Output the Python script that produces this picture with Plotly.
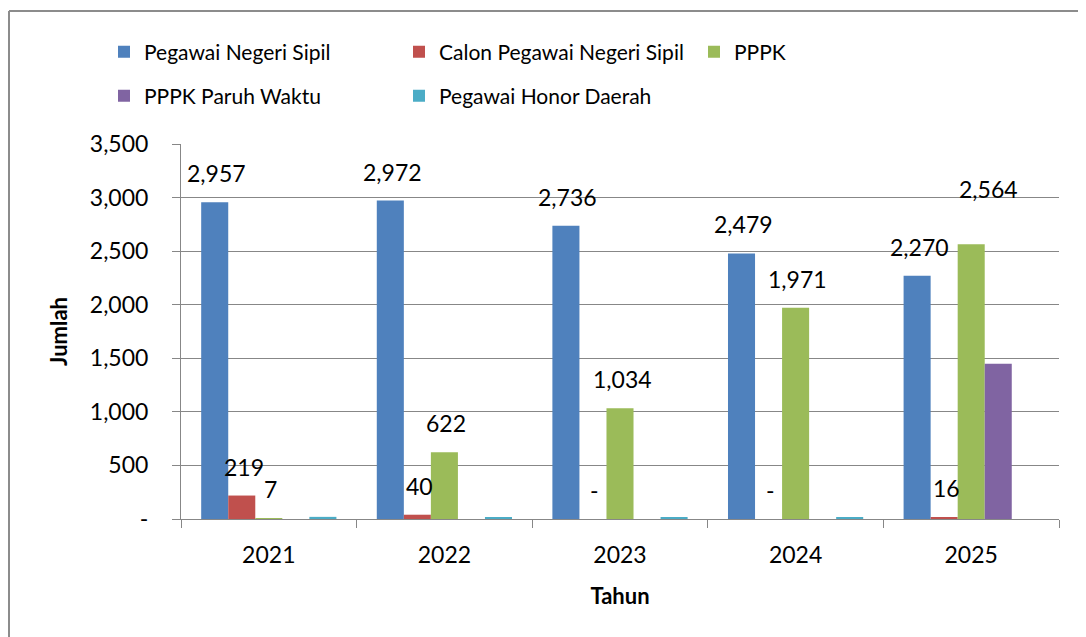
import plotly.graph_objects as go

years = ["2021", "2022", "2023", "2024", "2025"]
pns = [2957, 2972, 2736, 2479, 2270]
cpns = [219, 40, 0, 0, 16]
pppk = [7, 622, 1034, 1971, 2564]
pppk_pw = [0, 0, 0, 0, 1450]
honor = [20, 17, 14, 14, 0]

series_names = ["Pegawai Negeri Sipil", "Calon Pegawai Negeri Sipil", "PPPK",
                "PPPK Paruh Waktu", "Pegawai Honor Daerah"]
series_vals = [pns, cpns, pppk, pppk_pw, honor]
colors = ["#4F81BD", "#C0504D", "#9BBB59", "#8064A2", "#4BACC6"]
labelled = [True, True, True, False, False]

yticks = [0, 500, 1000, 1500, 2000, 2500, 3000, 3500]
yticktext = ["-" if v == 0 else f"{v:,}" for v in yticks]

# page offset (browser body margin)
OFF = 8
W, H = 1086 - OFF, 637 - OFF
PL, PR, PT, PB = 181, 1059, 144, 519  # plot area in page pixels
ML, MR, MT, MB = PL - OFF, W - (PR - OFF), PT - OFF, H - (PB - OFF)
BARGAP = 0.23
FONT = "Lato"
GRID = "#878787"

fig = go.Figure()
for i, (name, vals, col) in enumerate(zip(series_names, series_vals, colors)):
    fig.add_trace(go.Bar(
        x=years, y=vals, name=name, marker=dict(color=col, line=dict(width=0)),
        legend="legend" if i < 3 else "legend2",
    ))

plot_w = PR - PL
plot_h = PB - PT
cat_w = plot_w / len(years)
bar_w = cat_w * (1 - BARGAP) / len(series_names)
annotations = []
for i, (vals, lab) in enumerate(zip(series_vals, labelled)):
    if not lab:
        continue
    off = (i - (len(series_names) - 1) / 2) * bar_w
    for j, v in enumerate(vals):
        xs, ys = off + 2, 29
        if i == 2 and j == len(years) - 1:
            xs, ys = off + 17, 55
        annotations.append(dict(
            x=j, y=v, xref="x", yref="y", text="-" if v == 0 else f"{v:,}",
            showarrow=False, xshift=xs, yshift=ys,
            font=dict(family=FONT, size=23, color="black"),
        ))

def px_x(px):
    return (px - PL) / plot_w

def px_y(py):
    return (PB - py) / plot_h

border = dict(color="#8c8c8c", width=2)
fig.update_layout(
    width=W, height=H,
    margin=dict(l=ML, r=MR, t=MT, b=MB, autoexpand=False),
    paper_bgcolor="white", plot_bgcolor="white",
    barmode="group", bargap=BARGAP, bargroupgap=0,
    font=dict(family=FONT, size=23, color="black"),
    annotations=annotations,
    xaxis=dict(
        type="category", range=[-0.5, len(years) - 0.5],
        showgrid=False, showline=True, linecolor=GRID, linewidth=1,
        ticks="outside", tickson="boundaries", ticklen=8, tickcolor=GRID,
        tickangle=0, ticklabelstandoff=15,
        tickfont=dict(family=FONT, size=23, color="black"),
        title=dict(text="<b>Tahun</b>", font=dict(family=FONT, size=22), standoff=22),
    ),
    yaxis=dict(
        range=[0, 3500], tickvals=yticks, ticktext=yticktext,
        showgrid=True, gridcolor=GRID, gridwidth=1,
        showline=True, linecolor=GRID, linewidth=1,
        ticks="outside", ticklen=8, tickcolor=GRID, ticklabelstandoff=19,
        tickfont=dict(family=FONT, size=23, color="black"),
        title=dict(text="<b>Jumlah</b>", font=dict(family=FONT, size=22), standoff=16),
        zeroline=False,
    ),
    legend=dict(
        orientation="h", xref="paper", yref="paper",
        x=px_x(104), y=px_y(52), xanchor="left", yanchor="middle",
        entrywidth=250, entrywidthmode="pixels",
        font=dict(family=FONT, size=21, color="black"), bgcolor="rgba(0,0,0,0)",
    ),
    legend2=dict(
        orientation="h", xref="paper", yref="paper",
        x=px_x(104), y=px_y(96), xanchor="left", yanchor="middle",
        entrywidth=250, entrywidthmode="pixels",
        font=dict(family=FONT, size=21, color="black"), bgcolor="rgba(0,0,0,0)",
    ),
    shapes=[
        dict(type="line", xref="paper", yref="paper",
             x0=px_x(9), x1=px_x(1200), y0=px_y(11), y1=px_y(11),
             line=border, layer="below"),
        dict(type="line", xref="paper", yref="paper",
             x0=px_x(9), x1=px_x(9), y0=px_y(11), y1=px_y(800),
             line=border, layer="below"),
    ],
)

fig.write_html("out.html")
